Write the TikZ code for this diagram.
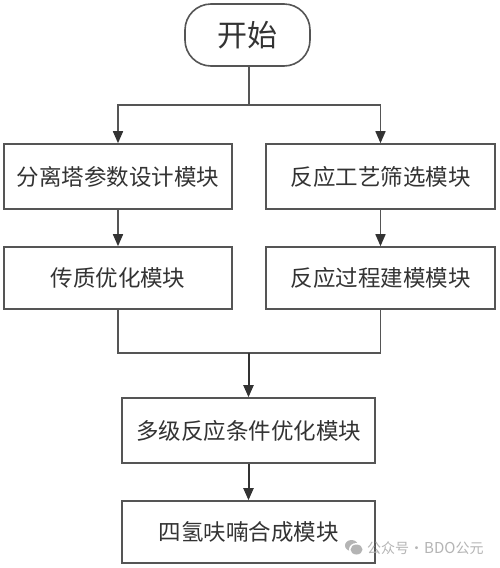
\documentclass[tikz,border=0pt]{standalone}
\usepackage{fontspec}
\setmainfont{Noto Sans CJK SC}
\usetikzlibrary{arrows.meta}
\definecolor{ln}{HTML}{555555}
\definecolor{tx}{HTML}{333333}
\definecolor{wm}{HTML}{B4B4B4}
\tikzset{
  x=1pt,y=-1pt,
  modbox/.style={draw=ln,line width=1.6pt,fill=white,rectangle,inner sep=0pt,text=tx,font=\fontsize{22.5}{27}\selectfont},
  startbox/.style={modbox,rounded corners=26pt,font=\fontsize{30}{36}\selectfont},
  conn/.style={draw=ln,line width=1.6pt},
  arr/.style={conn,-{Triangle[length=12pt,width=10pt,color=tx]}},
  arrheavy/.style={arr,draw=tx,line width=2pt},
  wmtext/.style={text=wm,inner sep=0pt,anchor=west,font=\fontsize{14}{16}\selectfont}
}
\begin{document}
\begin{tikzpicture}
\useasboundingbox (0,0) rectangle (500,568);
\fill[white] (0,0) rectangle (500,568);
\node[startbox,minimum width=125pt,minimum height=62pt] (s) at (247.5,35) {开始};
\node[modbox,minimum width=228pt,minimum height=65pt] (l1) at (118,176.5) {分离塔参数设计模块};
\node[modbox,minimum width=229pt,minimum height=65pt] (r1) at (380.5,176.5) {反应工艺筛选模块};
\node[modbox,minimum width=228pt,minimum height=62pt] (l2) at (118,278) {传质优化模块};
\node[modbox,minimum width=229pt,minimum height=62pt] (r2) at (380.5,278) {反应过程建模模块};
\node[modbox,minimum width=253pt,minimum height=65pt] (m) at (248.5,430.5) {多级反应条件优化模块};
\node[modbox,minimum width=253pt,minimum height=62pt] (b) at (248.5,532) {四氢呋喃合成模块};
\coordinate (j1) at (249,105);
\coordinate (j2) at (248.5,353);
\draw[conn] (j1 |- s.south) -- (j1);
\draw[arr] (j1) -| (l1.north);
\draw[arr] (j1) -| (r1.north);
\draw[arr] (l1.south) -- (l2.north);
\draw[arr] (r1.south) -- (r2.north);
\draw[conn] (l2.south) |- (j2);
\draw[conn] (r2.south) |- (j2);
\draw[arrheavy] (j2) -- (m.north);
\draw[arrheavy] (m.south) -- (b.north);
% watermark
\fill[wm] (351.5,545.5) ellipse (6.5pt and 5.5pt);
\fill[white] (356.5,549.5) ellipse (7.5pt and 6.5pt);
\fill[wm] (356.5,549.5) ellipse (6pt and 5pt);
\node[wmtext] (w) at (367,548) {公众号\hspace{0.5pt}·\hspace{0.5pt}{\fontsize{15}{16}\selectfont BDO}公元};
\end{tikzpicture}
\end{document}
